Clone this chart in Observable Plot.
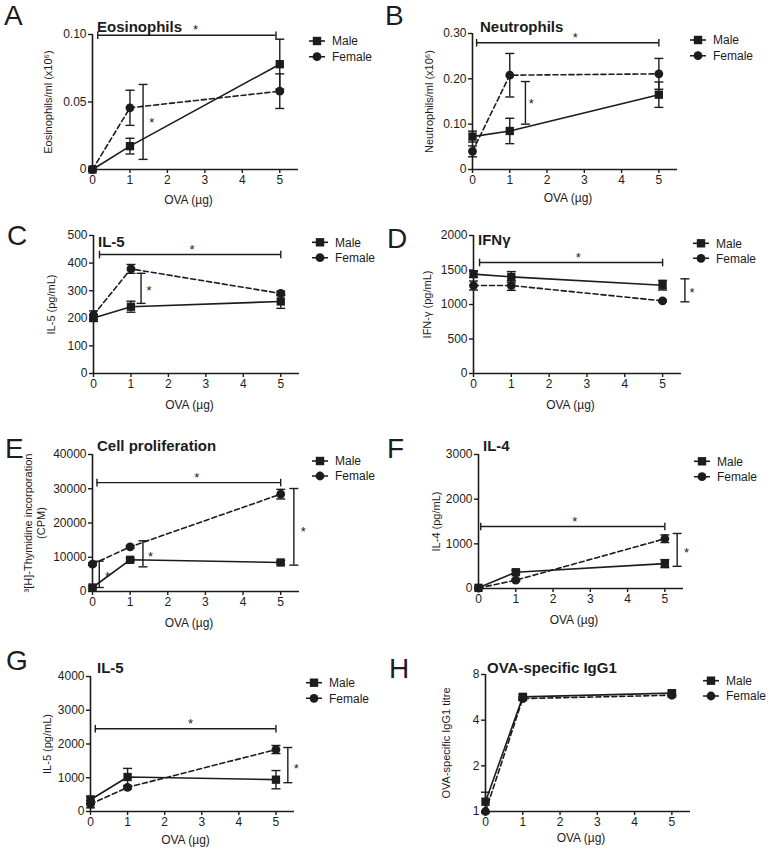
<!DOCTYPE html>
<html><head><meta charset="utf-8">
<script src="https://cdn.jsdelivr.net/npm/d3@7"></script>
<script src="https://cdn.jsdelivr.net/npm/@observablehq/plot@0.6"></script>
<style>
body{margin:0;background:#fff;}
#fig{position:relative;width:770px;height:852px;font-family:"Liberation Sans",Arial,Helvetica,sans-serif;color:#1c1c1c;overflow:hidden;}
#fig svg{position:absolute;}
</style></head><body><div id="fig"></div>
<script>
// ---------- data ----------
const doses = [0, 1, 5];
const xTicks = [0, 1, 2, 3, 4, 5];
const series = ["Male", "Female"];
const xLabel = "OVA (µg)";

// A Eosinophils
const eosMale = [0, 0.0173, 0.078];
const eosMaleErr = [0.001, 0.0058, 0.0185];
const eosFemale = [0, 0.0457, 0.058];
const eosFemaleErr = [0.001, 0.013, 0.0128];
const eosTicks = [0, 0.05, 0.10];
const eosHBr = {x1: 0.14, x2: 4.9, y: 0.0995, sx: 2.75};
const eosVBr = [{x: 1.35, y1: 0.0075, y2: 0.063, sx: 1.58, sy: 0.037}];

// B Neutrophils
const neuMale = [0.0726, 0.085, 0.165];
const neuMaleErr = [0.012, 0.028, 0.028];
const neuFemale = [0.04, 0.208, 0.211];
const neuFemaleErr = [0.012, 0.048, 0.034];
const neuTicks = [0, 0.10, 0.20, 0.30];
const neuHBr = {x1: 0.11, x2: 5, y: 0.2795, sx: 2.76};
const neuVBr = [{x: 1.42, y1: 0.10, y2: 0.194, sx: 1.58, sy: 0.152}];

// C IL-5 (cells)
const il5Male = [201, 242, 261];
const il5MaleErr = [12, 20, 25];
const il5Female = [212, 379, 290];
const il5FemaleErr = [15, 16, 8];
const il5Ticks = [0, 100, 200, 300, 400, 500];
const il5HBr = {x1: 0.16, x2: 5, y: 431, sx: 2.63};
const il5VBr = [{x: 1.27, y1: 254, y2: 363, sx: 1.48, sy: 312}];

// D IFN-gamma
const ifnMale = [1440, 1400, 1280];
const ifnMaleErr = [45, 77, 70];
const ifnFemale = [1275, 1275, 1053];
const ifnFemaleErr = [65, 70, 15];
const ifnTicks = [0, 500, 1000, 1500, 2000];
const ifnHBr = {x1: 0.16, x2: 5, y: 1609, sx: 2.77};
const ifnVBr = [{x: 5.59, y1: 1039, y2: 1372, sx: 5.78, sy: 1208}];

// E Cell proliferation
const proMale = [1170, 9250, 8470];
const proMaleErr = [400, 500, 500];
const proFemale = [7980, 13040, 28420];
const proFemaleErr = [400, 400, 1400];
const proTicks = [0, 10000, 20000, 30000, 40000];
const proHBr = {x1: 0.12, x2: 5, y: 31800, sx: 2.77};
const proVBr = [
  {x: 0.18, y1: 1170, y2: 8860, sx: 0.4, sy: 5060},
  {x: 1.34, y1: 7200, y2: 14800, sx: 1.54, sy: 11100},
  {x: 5.35, y1: 7690, y2: 30070, sx: 5.6, sy: 18200}
];

// F IL-4
const il4Male = [15, 364, 557];
const il4MaleErr = [10, 40, 90];
const il4Female = [10, 186, 1114];
const il4FemaleErr = [10, 25, 85];
const il4Ticks = [0, 1000, 2000, 3000];
const il4HBr = {x1: 0.06, x2: 5, y: 1388, sx: 2.58};
const il4VBr = [{x: 5.33, y1: 497, y2: 1232, sx: 5.58, sy: 869}];

// G IL-5 (second)
const il5bMale = [347, 1022, 943];
const il5bMaleErr = [110, 255, 270];
const il5bFemale = [218, 715, 1836];
const il5bFemaleErr = [110, 50, 120];
const il5bTicks = [0, 1000, 2000, 3000, 4000];
const il5bHBr = {x1: 0.13, x2: 5, y: 2452, sx: 2.7};
const il5bVBr = [{x: 5.32, y1: 854, y2: 1896, sx: 5.55, sy: 1360}];

// H OVA-specific IgG1
const iggMale = [1.16, 5.7, 6.03];
const iggMaleErr = [0.18, 0.2, 0.2];
const iggFemale = [1.0, 5.55, 5.84];
const iggFemaleErr = [0, 0.15, 0.15];
const iggTicks = [1, 2, 4, 8];

// ---------- layout ----------
const ink = "#1c1c1c";
const fontFam = "Liberation Sans, Arial, Helvetica, sans-serif";
const fmt2 = d => d === 0 ? "0" : d.toFixed(2);
const fmt0 = d => String(d);

const panels = [
  {key:"A", title:"Eosinophils", ylabel:"Eosinophils/ml (x10⁶)", male:eosMale, maleErr:eosMaleErr, female:eosFemale, femaleErr:eosFemaleErr, yTicks:eosTicks, fmt:fmt2, hBr:eosHBr, vBr:eosVBr,
   left:0, top:0, h:210, mL:92, mR:87, mT:34, mB:41, yLO:50, xLO:34,
   letter:[4,25], titlePos:[97,32], legend:[309,41,56.7]},
  {key:"B", title:"Neutrophils", ylabel:"Neutrophils/ml (x10⁶)", male:neuMale, maleErr:neuMaleErr, female:neuFemale, femaleErr:neuFemaleErr, yTicks:neuTicks, fmt:fmt2, hBr:neuHBr, vBr:neuVBr,
   left:385, top:0, h:210, mL:87, mR:93, mT:33, mB:41, yLO:49, xLO:32,
   letter:[385,25], titlePos:[480,32], legend:[690,40,55.7]},
  {key:"C", title:"IL-5", ylabel:"IL-5 (pg/mL)", male:il5Male, maleErr:il5MaleErr, female:il5Female, femaleErr:il5FemaleErr, yTicks:il5Ticks, fmt:fmt0, hBr:il5HBr, vBr:il5VBr,
   left:0, top:210, h:210, mL:93, mR:86, mT:25, mB:47, yLO:48, xLO:35,
   letter:[7,245], titlePos:[98,247], legend:[312,242.3,257.7]},
  {key:"D", title:"IFNγ", ylabel:"IFN-γ (pg/mL)", male:ifnMale, maleErr:ifnMaleErr, female:ifnFemale, femaleErr:ifnFemaleErr, yTicks:ifnTicks, fmt:fmt0, hBr:ifnHBr, vBr:ifnVBr,
   left:385, top:210, h:210, mL:88, mR:89, mT:25, mB:47, yLO:52, xLO:35,
   letter:[387,248], titlePos:[478,245], legend:[693,243.3,258.3]},
  {key:"E", title:"Cell proliferation", ylabel:"³[H]-Thymidine incorporation\n(CPM)", male:proMale, maleErr:proMaleErr, female:proFemale, femaleErr:proFemaleErr, yTicks:proTicks, fmt:fmt0, hBr:proHBr, vBr:proVBr,
   left:0, top:420, h:210, mL:92, mR:86, mT:34, mB:39, yLO:70, xLO:35,
   letter:[5,458], titlePos:[97,451], legend:[312,461,476]},
  {key:"F", title:"IL-4", ylabel:"IL-4 (pg/mL)", male:il4Male, maleErr:il4MaleErr, female:il4Female, femaleErr:il4FemaleErr, yTicks:il4Ticks, fmt:fmt0, hBr:il4HBr, vBr:il4VBr,
   left:385, top:420, h:210, mL:93, mR:87, mT:34, mB:42, yLO:48, xLO:35,
   letter:[387,458], titlePos:[483,451], legend:[694,461.3,476.7]},
  {key:"G", title:"IL-5", ylabel:"IL-5 (pg/mL)", male:il5bMale, maleErr:il5bMaleErr, female:il5bFemale, femaleErr:il5bFemaleErr, yTicks:il5bTicks, fmt:fmt0, hBr:il5bHBr, vBr:il5bVBr,
   left:0, top:635, h:217, mL:90, mR:91, mT:41, mB:41, yLO:49, xLO:32,
   letter:[6,670], titlePos:[97,673], legend:[306,682.7,698.3]},
  {key:"H", title:"OVA-specific IgG1", ylabel:"OVA-specific IgG1 titre", male:iggMale, maleErr:iggMaleErr, female:iggFemale, femaleErr:iggFemaleErr, yTicks:iggTicks, fmt:fmt0, hBr:null, vBr:[], log:true,
   left:385, top:635, h:217, mL:100, mR:80, mT:39, mB:41, yLO:45, xLO:30,
   letter:[389,678], titlePos:[487,673], legend:[703,680.7,696]}
];

const capH = {draw(ctx){ ctx.moveTo(-4.5,0); ctx.lineTo(4.5,0); }};
const capV = {draw(ctx){ ctx.moveTo(0,-3.8); ctx.lineTo(0,3.8); }};
const fig = document.getElementById("fig");

for (const cfg of panels) {
  const rows = doses.flatMap((d,i)=>[
    {dose:d, sex:series[0], v:cfg.male[i], e:cfg.maleErr[i]},
    {dose:d, sex:series[1], v:cfg.female[i], e:cfg.femaleErr[i]}]);
  const M = rows.filter(r=>r.sex===series[0]);
  const F = rows.filter(r=>r.sex===series[1]);
  const errRows = rows.filter(r=>r.e>0);
  const hb = cfg.hBr ? [cfg.hBr] : [];
  const hbEnds = hb.flatMap(b=>[{x:b.x1,y:b.y},{x:b.x2,y:b.y}]);
  const vb = cfg.vBr;
  const vbEnds = vb.flatMap(b=>[{x:b.x,y:b.y1},{x:b.x,y:b.y2}]);
  const yDom = [cfg.yTicks[0], cfg.yTicks[cfg.yTicks.length-1]];
  const svg = Plot.plot({
    width: 385, height: cfg.h,
    marginLeft: cfg.mL, marginRight: cfg.mR, marginTop: cfg.mT, marginBottom: cfg.mB,
    style: {fontFamily: fontFam, fontSize: "12px", color: ink, background: "none", overflow: "visible"},
    x: {domain: [0, 5.5]},
    y: cfg.log ? {type: "log", base: 2, domain: yDom} : {domain: yDom},
    marks: [
      Plot.axisX(xTicks, {tickSize: 4, tickPadding: 2, tickFormat: fmt0, strokeWidth: 1.4, fontSize: 12, label: null}),
      Plot.axisY(cfg.yTicks, {tickSize: 4, tickPadding: 2, tickFormat: cfg.fmt, strokeWidth: 1.4, fontSize: 12, label: null}),
      // axis titles
      Plot.text([xLabel], {text: d => d, frameAnchor: "bottom", textAnchor: "middle", dy: cfg.xLO, dx: -7, lineAnchor: "bottom", fontSize: 12, fill: ink}),
      Plot.text([cfg.ylabel], {text: d => d, frameAnchor: "left", textAnchor: "middle", dx: -cfg.yLO, rotate: -90, lineAnchor: "top", lineHeight: 1.2, fontSize: 11, fill: ink}),
      Plot.ruleY([yDom[0]], {stroke: ink, strokeWidth: 1.6}),
      Plot.ruleX([0], {stroke: ink, strokeWidth: 1.6}),
      // error bars
      Plot.ruleX(errRows, {x: "dose", y1: r=>r.v-r.e, y2: r=>r.v+r.e, stroke: ink, strokeWidth: 1.4}),
      Plot.dot(errRows, {x: "dose", y: r=>r.v-r.e, symbol: capH, fill: "none", stroke: ink, strokeWidth: 1.4}),
      Plot.dot(errRows, {x: "dose", y: r=>r.v+r.e, symbol: capH, fill: "none", stroke: ink, strokeWidth: 1.4}),
      // series lines
      Plot.line(M, {x: "dose", y: "v", stroke: ink, strokeWidth: 1.6}),
      Plot.line(F, {x: "dose", y: "v", stroke: ink, strokeWidth: 1.6, strokeDasharray: "5,3"}),
      Plot.dot(M, {x: "dose", y: "v", symbol: "square", fill: ink, stroke: "none", r: 4.7}),
      Plot.dot(F, {x: "dose", y: "v", symbol: "circle", fill: ink, stroke: "none", r: 4.4}),
      // significance brackets
      Plot.ruleY(hb, {x1: "x1", x2: "x2", y: "y", stroke: ink, strokeWidth: 1.4}),
      Plot.dot(hbEnds, {x: "x", y: "y", symbol: capV, fill: "none", stroke: ink, strokeWidth: 1.4}),
      Plot.text(hb, {x: "sx", y: "y", text: () => "*", dy: -5, fontSize: 13, fill: ink}),
      Plot.ruleX(vb, {x: "x", y1: "y1", y2: "y2", stroke: ink, strokeWidth: 1.4}),
      Plot.dot(vbEnds, {x: "x", y: "y", symbol: capH, fill: "none", stroke: ink, strokeWidth: 1.4}),
      Plot.text(vb, {x: "sx", y: "sy", text: () => "*", dy: 3, fontSize: 13, fill: ink})
    ]
  });
  svg.style.left = cfg.left + "px";
  svg.style.top = cfg.top + "px";
  fig.appendChild(svg);
}

// overlay: panel letters, titles, legends
const ov = d3.select(fig).append("svg")
  .attr("width", 770).attr("height", 852)
  .style("left", "0px").style("top", "0px").style("pointer-events", "none")
  .attr("font-family", fontFam).attr("fill", ink);

for (const cfg of panels) {
  ov.append("text").attr("x", cfg.letter[0]).attr("y", cfg.letter[1])
    .attr("font-size", 28).text(cfg.key);
  ov.append("text").attr("x", cfg.titlePos[0]).attr("y", cfg.titlePos[1])
    .attr("font-size", 15).attr("font-weight", "bold").text(cfg.title);
  const [lx, yM, yF] = cfg.legend;
  const g = ov.append("g");
  g.append("line").attr("x1", lx).attr("x2", lx + 16).attr("y1", yM).attr("y2", yM)
    .attr("stroke", ink).attr("stroke-width", 1.6);
  g.append("rect").attr("x", lx + 8 - 4.2).attr("y", yM - 4.2).attr("width", 8.4).attr("height", 8.4).attr("fill", ink);
  g.append("line").attr("x1", lx).attr("x2", lx + 16).attr("y1", yF).attr("y2", yF)
    .attr("stroke", ink).attr("stroke-width", 1.6).attr("stroke-dasharray", "4,8");
  g.append("circle").attr("cx", lx + 8).attr("cy", yF).attr("r", 4.4).attr("fill", ink);
  g.append("text").attr("x", lx + 23).attr("y", yM).attr("dy", "0.35em").attr("font-size", 12).text(series[0]);
  g.append("text").attr("x", lx + 23).attr("y", yF).attr("dy", "0.35em").attr("font-size", 12).text(series[1]);
}
</script>
</body></html>
